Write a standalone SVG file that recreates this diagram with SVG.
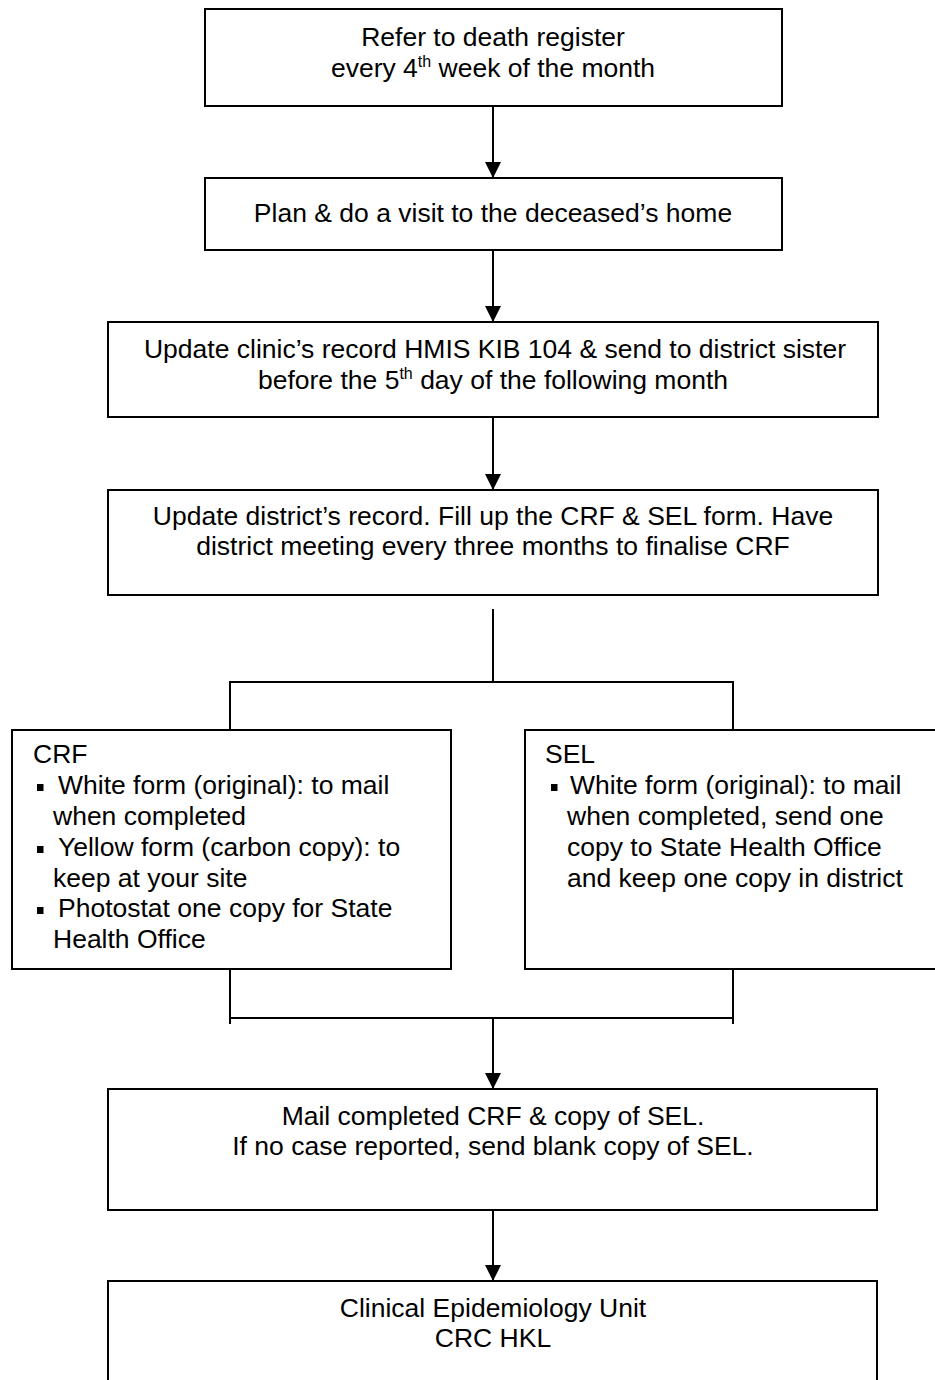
<svg xmlns="http://www.w3.org/2000/svg" width="935" height="1380" viewBox="0 0 935 1380">
<defs>
<style>
.box{fill:#fff;stroke:#000;stroke-width:2}
.ln{fill:none;stroke:#000;stroke-width:2}
text{font-family:"Liberation Sans",Arial,sans-serif;font-size:26.5px;fill:#000}
.c{text-anchor:middle}
.sup{font-size:16px}
.bul{fill:#000}
</style>
<marker id="ah" viewBox="0 0 16 16" refX="16" refY="8" markerWidth="16" markerHeight="16" markerUnits="userSpaceOnUse" orient="auto">
<path d="M0,0 L16,8 L0,16 Z" fill="#000"/>
</marker>
</defs>
<rect width="935" height="1380" fill="#fff"/>

<g id="connectors">
<line class="ln" x1="493" y1="106" x2="493" y2="178" marker-end="url(#ah)"/>
<line class="ln" x1="493" y1="250" x2="493" y2="322" marker-end="url(#ah)"/>
<line class="ln" x1="493" y1="417" x2="493" y2="490" marker-end="url(#ah)"/>
<polyline class="ln" points="493,609 493,682"/>
<polyline class="ln" points="230,730 230,682 733,682 733,730"/>
<polyline class="ln" points="230,969 230,1024"/>
<polyline class="ln" points="733,969 733,1024"/>
<line class="ln" x1="230" y1="1018" x2="733" y2="1018"/>
<line class="ln" x1="493" y1="1018" x2="493" y2="1089" marker-end="url(#ah)"/>
<line class="ln" x1="493" y1="1210" x2="493" y2="1281" marker-end="url(#ah)"/>
</g>

<g id="n1">
<rect class="box" x="205" y="9" width="577" height="97"/>
<text class="c" x="493" y="46">Refer to death register</text>
<text class="c" x="493" y="77">every 4<tspan class="sup" dy="-10">th</tspan><tspan dy="10"> week of the month</tspan></text>
</g>

<g id="n2">
<rect class="box" x="205" y="178" width="577" height="72"/>
<text class="c" x="493" y="222">Plan &amp; do a visit to the deceased’s home</text>
</g>

<g id="n3">
<rect class="box" x="108" y="322" width="770" height="95"/>
<text class="c" x="495" y="358">Update clinic’s record HMIS KIB 104 &amp; send to district sister</text>
<text class="c" x="493" y="389">before the 5<tspan class="sup" dy="-10">th</tspan><tspan dy="10"> day of the following month</tspan></text>
</g>

<g id="n4">
<rect class="box" x="108" y="490" width="770" height="105"/>
<text class="c" x="493" y="525">Update district’s record. Fill up the CRF &amp; SEL form. Have</text>
<text class="c" x="493" y="555">district meeting every three months to finalise CRF</text>
</g>

<g id="crf">
<rect class="box" x="12" y="730" width="439" height="239"/>
<text x="33" y="763">CRF</text>
<rect class="bul" x="37" y="784" width="6.5" height="7"/>
<text x="58" y="794">White form (original): to mail</text>
<text x="53" y="825">when completed</text>
<rect class="bul" x="37" y="846" width="6.5" height="7"/>
<text x="58" y="856">Yellow form (carbon copy):  to</text>
<text x="53" y="887">keep at your site</text>
<rect class="bul" x="37" y="907" width="6.5" height="7"/>
<text x="58" y="917">Photostat one copy for State</text>
<text x="53" y="948">Health Office</text>
</g>

<g id="sel">
<rect class="box" x="525" y="730" width="420" height="239"/>
<text x="545" y="763">SEL</text>
<rect class="bul" x="551" y="784" width="6.5" height="7"/>
<text x="570" y="794">White form (original): to mail</text>
<text x="567" y="825">when completed, send one</text>
<text x="567" y="856">copy to State Health Office</text>
<text x="567" y="887">and keep one copy in district</text>
</g>

<g id="n5">
<rect class="box" x="108" y="1089" width="769" height="121"/>
<text class="c" x="493" y="1125">Mail completed CRF &amp; copy of SEL.</text>
<text class="c" x="493" y="1155">If no case reported, send blank copy of SEL.</text>
</g>

<g id="n6">
<rect class="box" x="108" y="1281" width="769" height="110"/>
<text class="c" x="493" y="1317">Clinical Epidemiology Unit</text>
<text class="c" x="493" y="1347">CRC HKL</text>
</g>
</svg>
